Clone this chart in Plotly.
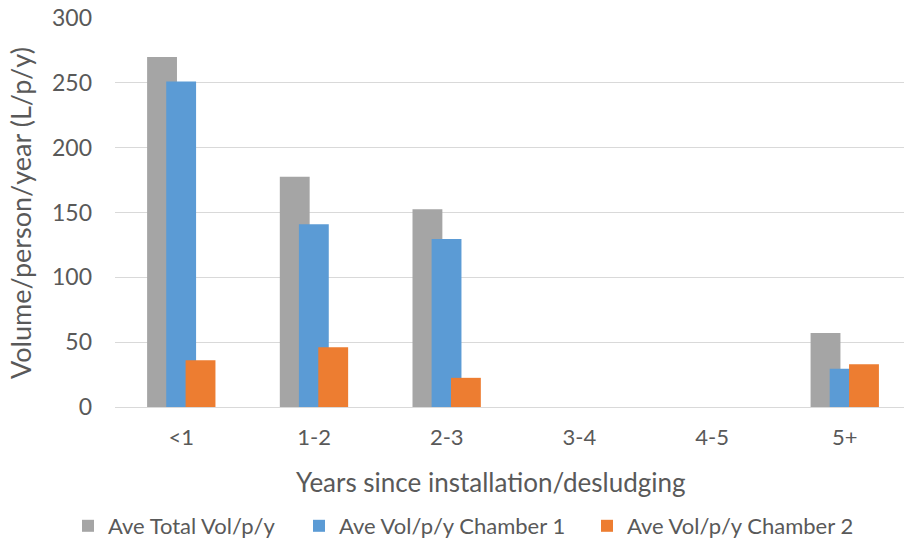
import plotly.graph_objects as go

categories = ["<1", "1-2", "2-3", "3-4", "4-5", "5+"]
total_vol = [270, 177.5, 152.5, None, None, 57]
chamber1_vol = [251, 141, 129.5, None, None, 29.5]
chamber2_vol = [36, 46, 22.5, None, None, 33]

series_names = ["Ave Total Vol/p/y", "Ave Vol/p/y Chamber 1", "Ave Vol/p/y Chamber 2"]
series_colors = ["#A5A5A5", "#5B9BD5", "#ED7D31"]
# Excel-style overlapping bars: narrow offset between neighbouring series
offsets = [-0.258, -0.114, 0.032]
bar_width = 0.225

font_family = "Lato, Carlito, Open Sans, sans-serif"
text_color = "#595959"

W, H = 904, 542
M_L, M_R, M_T, M_B = 115, 0, 18, 135
plot_w, plot_h = W - M_L - M_R, H - M_T - M_B

# one legend per series so each entry sits where the text run places it
legend_ids = ["legend", "legend2", "legend3"]
legend_left_px = [68, 299, 587]
legend_mid_px = 526

fig = go.Figure()
for name, vals, color, off, lg in zip(series_names, [total_vol, chamber1_vol, chamber2_vol],
                                       series_colors, offsets, legend_ids):
    fig.add_trace(go.Bar(
        x=categories, y=vals, name=name,
        marker=dict(color=color, line=dict(width=0)),
        width=bar_width, offset=off, legend=lg,
    ))

legend_common = dict(
    orientation="h", xanchor="left", xref="container",
    yanchor="middle", yref="container",
    font=dict(size=22, color=text_color), itemwidth=30,
    bgcolor="rgba(0,0,0,0)", borderwidth=0,
)
legends = {}
for lg, xpx in zip(legend_ids, legend_left_px):
    legends[lg] = dict(legend_common, x=xpx / W, y=1 - legend_mid_px / H)

fig.update_layout(
    width=W, height=H,
    barmode="overlay",
    plot_bgcolor="white", paper_bgcolor="white",
    margin=dict(l=M_L, r=M_R, t=M_T, b=M_B, autoexpand=False),
    font=dict(family=font_family, color=text_color, size=22),
    showlegend=True,
    **legends,
)
fig.update_xaxes(
    type="category", range=[-0.5, 5.446], automargin=False,
    showgrid=False, showline=True, linecolor="#D9D9D9", linewidth=1,
    ticks="", tickfont=dict(size=22, color=text_color),
    ticklabelstandoff=11,
)
fig.update_yaxes(
    range=[0, 300], dtick=50, tick0=0, automargin=False,
    showgrid=True, gridcolor="#D9D9D9", gridwidth=1,
    zeroline=False, showline=False,
    ticks="", tickfont=dict(size=23, color=text_color),
    ticklabelstandoff=22,
)

# axis titles
fig.add_annotation(
    text="Years since installation/desludging", showarrow=False,
    xref="paper", yref="paper",
    x=(490.5 - M_L) / plot_w, y=(H - M_B - 482) / plot_h,
    xanchor="center", yanchor="middle",
    font=dict(size=26, color=text_color),
)
fig.add_annotation(
    text="Volume/person/year (L/p/y)", showarrow=False, textangle=-90,
    xref="paper", yref="paper",
    x=(21 - M_L) / plot_w, y=(H - M_B - 213) / plot_h,
    xanchor="center", yanchor="middle",
    font=dict(size=27, color=text_color),
)

fig.write_html("out.html")
